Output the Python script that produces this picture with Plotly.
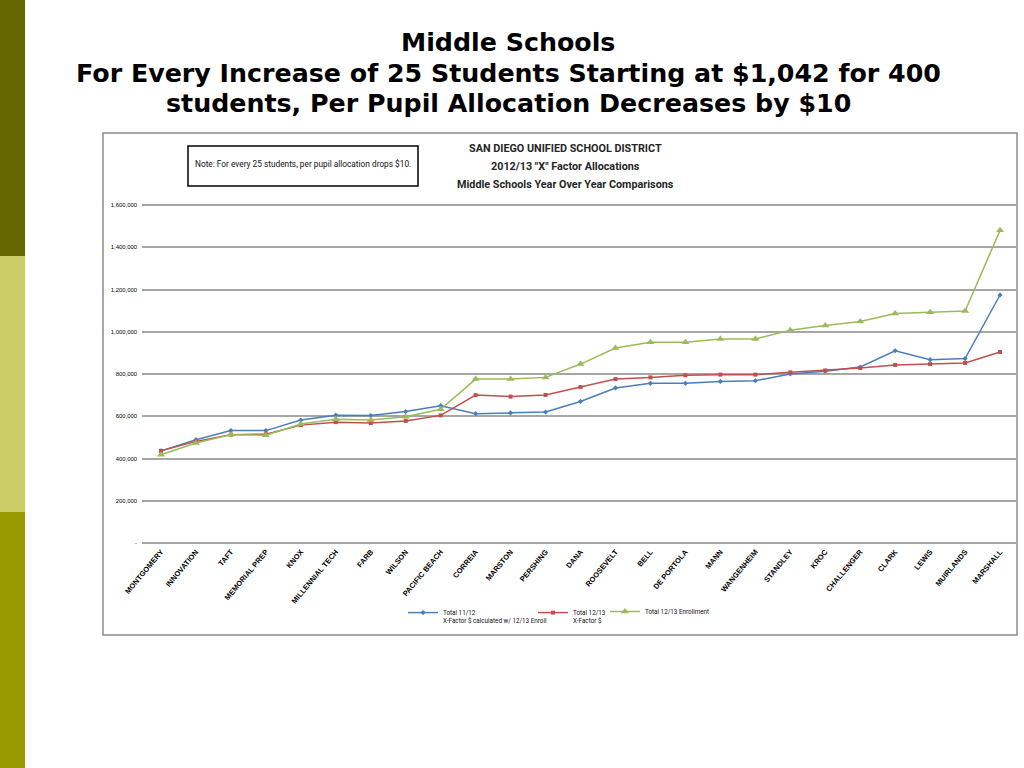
import plotly.graph_objects as go

schools = ["MONTGOMERY", "INNOVATION", "TAFT", "MEMORIAL PREP", "KNOX", "MILLENNIAL TECH",
           "FARB", "WILSON", "PACIFIC BEACH", "CORREIA", "MARSTON", "PERSHING", "DANA",
           "ROOSEVELT", "BELL", "DE PORTOLA", "MANN", "WANGENHEIM", "STANDLEY", "KROC",
           "CHALLENGER", "CLARK", "LEWIS", "MUIRLANDS", "MARSHALL"]

total_1112 = [436000, 489000, 532000, 532000, 582000, 605000, 603000, 622000, 650000, 612000,
              616000, 620000, 670000, 734000, 756000, 756000, 765000, 768000, 800000, 813000,
              833000, 910000, 868000, 873000, 1174000]
total_1213 = [436000, 481000, 513000, 515000, 558000, 572000, 568000, 578000, 604000, 700000,
              693000, 701000, 738000, 776000, 784000, 794000, 797000, 797000, 808000, 817000,
              828000, 843000, 847000, 852000, 904000]
enroll_1213 = [418000, 473000, 513000, 510000, 563000, 586000, 582000, 598000, 633000, 776000,
               776000, 784000, 847000, 923000, 950000, 950000, 966000, 966000, 1007000, 1030000,
               1049000, 1086000, 1092000, 1098000, 1480000]

y_ticks = [0, 200000, 400000, 600000, 800000, 1000000, 1200000, 1400000, 1600000]
y_tick_text = ["-", "200,000", "400,000", "600,000", "800,000", "1,000,000", "1,200,000",
               "1,400,000", "1,600,000"]

names = ["Total 11/12<br>X-Factor $ calculated w/ 12/13 Enroll",
         "Total 12/13<br>X-Factor $",
         "Total 12/13 Enrollment"]

W, H = 1024, 768
def px(x): return x / W
def py(y): return 1 - y / H

idx = list(range(len(schools)))
fig = go.Figure()
fig.add_trace(go.Scatter(x=idx, y=total_1112, mode="lines+markers", name=names[0],
                         line=dict(color="#4a7ebb", width=1.5),
                         marker=dict(symbol="diamond", size=4, color="#4a7ebb"),
                         legend="legend"))
fig.add_trace(go.Scatter(x=idx, y=total_1213, mode="lines+markers", name=names[1],
                         line=dict(color="#c0504d", width=1.5),
                         marker=dict(symbol="square", size=4, color="#c0504d"),
                         legend="legend2"))
fig.add_trace(go.Scatter(x=idx, y=enroll_1213, mode="lines+markers", name=names[2],
                         line=dict(color="#9bbb59", width=1.5),
                         marker=dict(symbol="triangle-up", size=7, color="#9bbb59"),
                         legend="legend3"))

# y mapping: 0 -> 543px, 1.6M -> 205px
ylo, yhi = -10000, 1615000
ppu = (543 - 205) / 1600000
ybot_px = 543 + (0 - ylo) * ppu
ytop_px = 205 - (yhi - 1600000) * ppu

leg_font = dict(family="Roboto", size=6.3, color="#111")
leg_common = dict(orientation="v", xanchor="left", yanchor="top", font=leg_font,
                  bgcolor="rgba(0,0,0,0)", borderwidth=0, itemwidth=30)

fig.update_layout(
    width=W, height=H, margin=dict(l=0, r=0, t=0, b=0, autoexpand=False),
    paper_bgcolor="white", plot_bgcolor="white",
    xaxis=dict(domain=[px(142), px(1017)], range=[-0.543, 24.485],
               tickmode="array", tickvals=idx, ticktext=schools, tickangle=-50,
               showgrid=False, zeroline=False, showline=False, ticks="", automargin=False,
               tickfont=dict(family="Liberation Sans", size=7.5, color="black", weight="bold")),
    yaxis=dict(domain=[py(ybot_px), py(ytop_px)], range=[ylo, yhi],
               tickmode="array", tickvals=y_ticks, ticktext=y_tick_text,
               showgrid=True, gridcolor="#a6a6a6", gridwidth=1.5, zeroline=False,
               showline=False, ticks="", automargin=False, ticklabelstandoff=4,
               tickfont=dict(family="Liberation Sans", size=5.9, color="black")),
    legend=dict(x=px(403), y=py(602), valign="top", **leg_common),
    legend2=dict(x=px(533), y=py(602), valign="top", **leg_common),
    legend3=dict(x=px(605), y=py(597), valign="middle", **leg_common),
    showlegend=True,
)

shapes = [
    dict(type="rect", xref="paper", yref="paper", x0=0, x1=px(25), y0=py(256), y1=1,
         fillcolor="#666600", line=dict(width=0), layer="below"),
    dict(type="rect", xref="paper", yref="paper", x0=0, x1=px(25), y0=py(512), y1=py(256),
         fillcolor="#cccc66", line=dict(width=0), layer="below"),
    dict(type="rect", xref="paper", yref="paper", x0=0, x1=px(25), y0=0, y1=py(512),
         fillcolor="#999900", line=dict(width=0), layer="below"),
    dict(type="rect", xref="paper", yref="paper", x0=px(103), x1=px(1017), y0=py(635), y1=py(133),
         fillcolor="rgba(0,0,0,0)", line=dict(color="#8c8c8c", width=1.5), layer="below"),
    dict(type="rect", xref="paper", yref="paper", x0=px(188), x1=px(418), y0=py(186), y1=py(146),
         fillcolor="white", line=dict(color="black", width=1.5)),
]
fig.update_layout(shapes=shapes)

title_font = dict(family="DejaVu Sans", size=25.3, color="black", weight="bold")
annos = [
    dict(text="Middle Schools", x=px(508), y=py(42)),
    dict(text="For Every Increase of 25 Students Starting at $1,042 for 400", x=px(508), y=py(73)),
    dict(text="students, Per Pupil Allocation Decreases by $10", x=px(508), y=py(103)),
]
for a in annos:
    fig.add_annotation(xref="paper", yref="paper", xanchor="center", yanchor="middle",
                       showarrow=False, font=title_font, **a)

inner_font = dict(family="Roboto", size=10.8, color="#262626", weight="bold")
for txt, yy in [("SAN DIEGO UNIFIED SCHOOL DISTRICT", 149),
                ('2012/13 "X" Factor Allocations', 167),
                ("Middle Schools Year Over Year Comparisons", 185)]:
    fig.add_annotation(xref="paper", yref="paper", x=px(565), y=py(yy), text=txt,
                       xanchor="center", yanchor="middle", showarrow=False, font=inner_font)

fig.add_annotation(xref="paper", yref="paper", x=px(303), y=py(164),
                   text="Note: For every 25 students, per pupil allocation drops $10.",
                   xanchor="center", yanchor="middle", showarrow=False,
                   font=dict(family="Roboto", size=8.3, color="#111"))

post = """
document.documentElement.style.margin='0';
document.body.style.margin='0';
document.body.style.overflow='hidden';
"""
fig.write_html("out.html", post_script=post, config={"displayModeBar": False})
